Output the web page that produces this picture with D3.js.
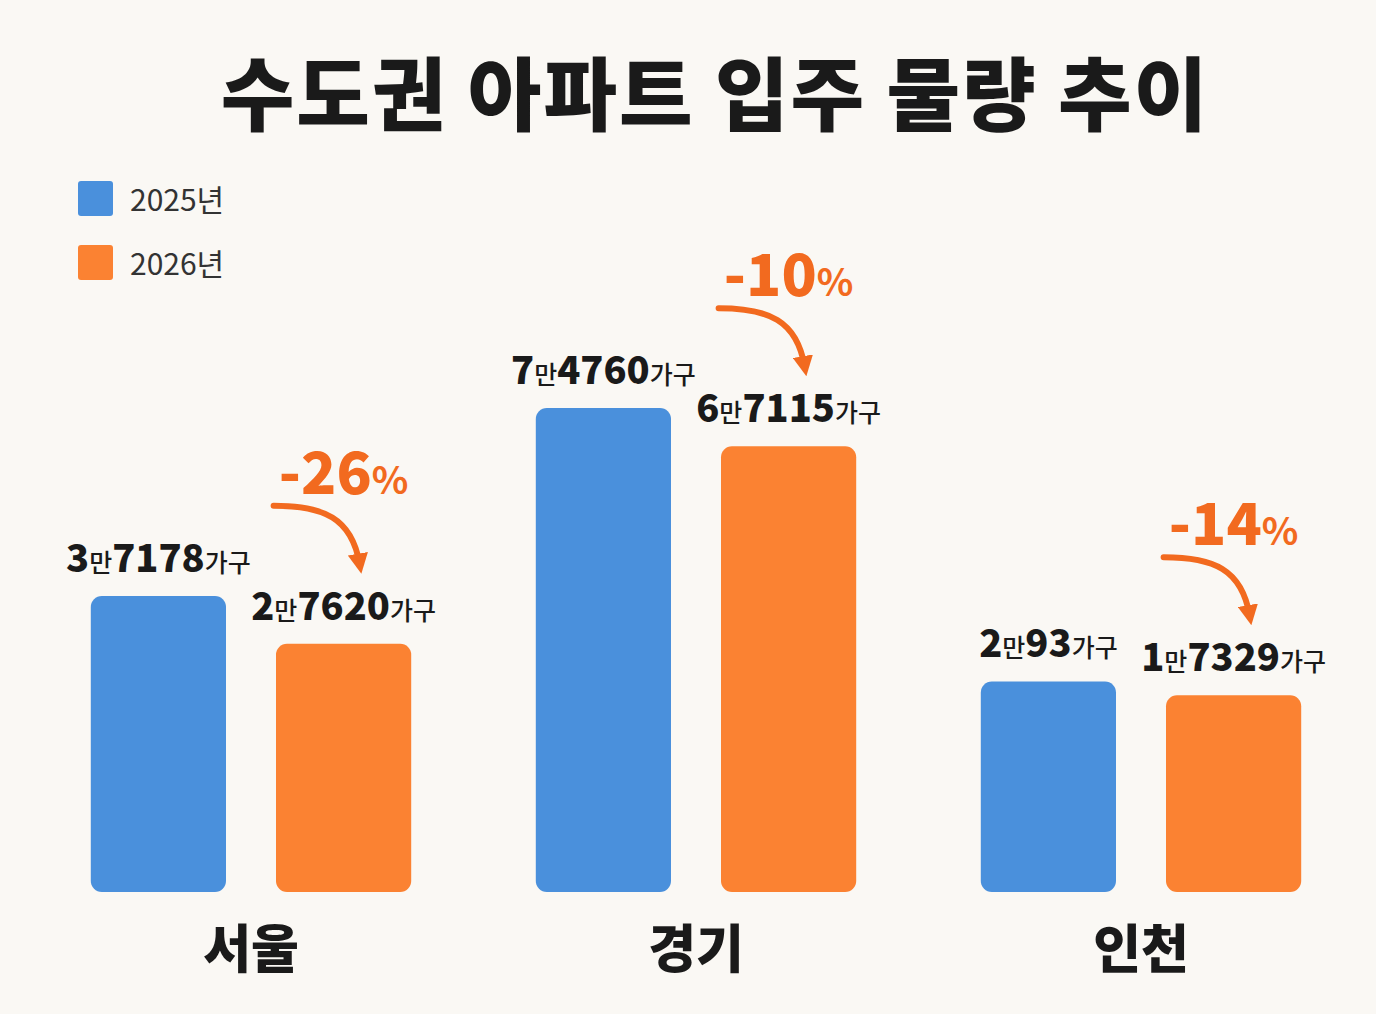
<!DOCTYPE html>
<html><head><meta charset="utf-8">
<script src="https://cdn.jsdelivr.net/npm/d3@7"></script>
<style>body{margin:0;background:#faf8f4}svg{display:block;font-family:"Noto Sans CJK KR","Noto Sans",sans-serif}</style>
</head><body><svg id="c" width="1376" height="1014"></svg>
<script>
const title = "수도권 아파트 입주 물량 추이";
const categories = ["서울", "경기", "인천"];
const series = ["2025년", "2026년"];
const values2025 = [37178, 74760, 20093];
const values2026 = [27620, 67115, 17329];
const labels2025 = [["3","7178"],["7","4760"],["2","93"]];
const labels2026 = [["2","7620"],["6","7115"],["1","7329"]];
const changes = ["-26", "-10", "-14"];

const colors = ["#4a90dc", "#fb8232"];
const accent = "#f26a1f";
const svg = d3.select("#c");
svg.append("rect").attr("width",1376).attr("height",1014).attr("fill","#faf8f4");

svg.append("text").attr("x",715).attr("y",124).attr("text-anchor","middle")
  .attr("font-size",80).attr("font-weight",900).attr("letter-spacing",2).attr("fill","#1a1a1a").text(title);

series.forEach((s,i)=>{
  const g = svg.append("g").attr("transform",`translate(78,${181+i*64})`);
  g.append("rect").attr("width",35).attr("height",35).attr("rx",3).attr("fill",colors[i]);
  g.append("text").attr("x",52).attr("y",30).attr("font-size",30).attr("fill","#333").text(s);
});

const base = 892;
const y = d3.scaleLinear().domain([-22000, 74760]).range([base, 408]);
const x0 = d3.scaleBand().domain(categories).range([28.5, 1363.5]).paddingInner(0.28).paddingOuter(0.14);
const x1 = d3.scaleBand().domain(series).range([0, x0.bandwidth()]).paddingInner(0.27).paddingOuter(0);

const defs = svg.append("defs");
defs.append("marker").attr("id","ah").attr("viewBox","0 0 10 10").attr("refX",5).attr("refY",5)
  .attr("markerWidth",3.4).attr("markerHeight",3.4).attr("orient","auto")
  .append("path").attr("d","M0,0 L10,5 L0,10 Z").attr("fill",accent);

function valueLabel(cx, yb, parts){
  const t = svg.append("text").attr("x",cx).attr("y",yb).attr("text-anchor","middle").attr("fill","#1a1a1a");
  t.append("tspan").attr("font-size",38).attr("font-weight",800).text(parts[0]);
  t.append("tspan").attr("font-size",25).attr("font-weight",500).text("만");
  t.append("tspan").attr("font-size",38).attr("font-weight",800).text(parts[1]);
  t.append("tspan").attr("font-size",25).attr("font-weight",500).text("가구");
}

categories.forEach((c,i)=>{
  const vals=[values2025[i], values2026[i]];
  const labs=[labels2025[i], labels2026[i]];
  series.forEach((s,j)=>{
    const bx = x0(c)+x1(s), bw = x1.bandwidth(), top = y(vals[j]);
    svg.append("rect").attr("x",bx).attr("y",top).attr("width",bw).attr("height",base-top)
      .attr("rx",11).attr("fill",colors[j]);
    valueLabel(bx+bw/2, top-24, labs[j]);
  });
  const ox = x0(c)+x1(series[1])+x1.bandwidth()/2, ot = y(values2026[i]);
  const pt = svg.append("text").attr("x",ox).attr("y",ot-150).attr("text-anchor","middle").attr("fill",accent);
  pt.append("tspan").attr("font-size",58).attr("font-weight",800).text(changes[i]);
  pt.append("tspan").attr("font-size",38).attr("font-weight",700).text("%");
  const sx = ox-70, sy = ot-138, ex = ox+16, ey = ot-80;
  svg.append("path").attr("d",`M${sx},${sy} C${sx+50},${sy} ${ex-8},${sy+12} ${ex},${ey}`)
    .attr("fill","none").attr("stroke",accent).attr("stroke-width",6).attr("stroke-linecap","round")
    .attr("marker-end","url(#ah)");
  svg.append("text").attr("x",x0(c)+x0.bandwidth()/2).attr("y",968).attr("text-anchor","middle")
    .attr("font-size",52).attr("font-weight",800).attr("fill","#1a1a1a").text(c);
});
</script></body></html>
